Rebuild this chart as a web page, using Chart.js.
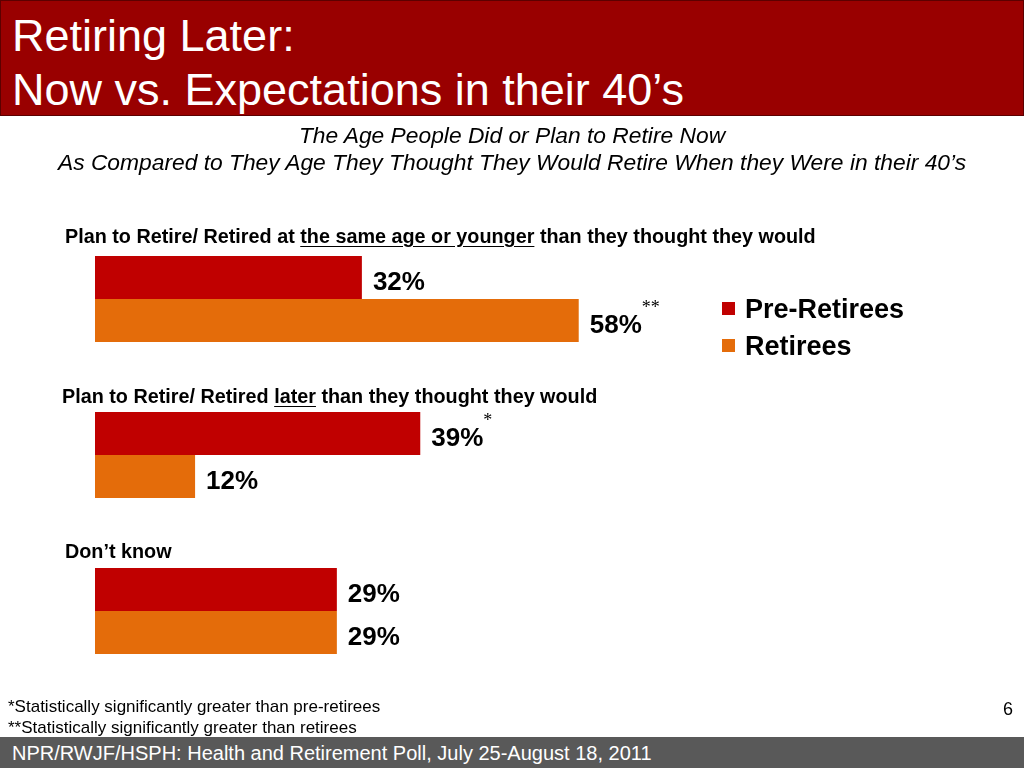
<!DOCTYPE html>
<html>
<head>
<meta charset="utf-8">
<script src="https://cdn.jsdelivr.net/npm/chart.js@4"></script>
<style>
  html, body { margin: 0; padding: 0; }
  body { width: 1024px; height: 768px; position: relative; overflow: hidden; background: #fff; font-family: "Liberation Sans", Arial, sans-serif; }
  #chartBox { position: absolute; left: 0; top: 0; width: 1024px; height: 768px; }
  #header { position: absolute; left: 0; top: 0; width: 1024px; height: 116px; box-sizing: border-box; background: #990000; border: 1px solid #5c0000; }
  #header div { position: absolute; left: 11px; color: #fff; font-size: 45px; white-space: nowrap; }
  .sub { position: absolute; left: 0; width: 1024px; text-align: center; font-style: italic; font-size: 22.8px; color: #000; white-space: nowrap; }
  .heading { position: absolute; font-weight: bold; font-size: 19.8px; color: #000; white-space: nowrap; }
  .heading u { text-underline-offset: 3px; }
  .legend { position: absolute; left: 722px; font-weight: bold; font-size: 27px; color: #000; white-space: nowrap; }
  .legend span { display: inline-block; width: 13px; height: 13px; margin-right: 10px; vertical-align: 3px; }
  .note { position: absolute; left: 8px; font-size: 17px; color: #000; white-space: nowrap; }
  #pageNum { position: absolute; left: 1003px; top: 699px; font-size: 18px; }
  #footer { position: absolute; left: 0; top: 737px; width: 1024px; height: 31px; background: #595959; color: #fff; font-size: 20px; line-height: 33px; padding-left: 12px; box-sizing: border-box; white-space: nowrap; }
</style>
</head>
<body>
<div id="chartBox"><canvas id="barChart"></canvas></div>

<div id="header">
  <div style="top:9px;">Retiring Later:</div>
  <div style="top:63px;">Now vs. Expectations in their 40’s</div>
</div>
<div class="sub" style="top:122px;">The Age People Did or Plan to Retire Now</div>
<div class="sub" style="top:149px;">As Compared to They Age They Thought They Would Retire When they Were in their 40’s</div>

<div id="headings"></div>
<div id="legend"></div>

<div class="note" style="top:697px;">*Statistically significantly greater than pre-retirees</div>
<div class="note" style="top:718px;">**Statistically significantly greater than retirees</div>
<div id="pageNum">6</div>
<div id="footer">NPR/RWJF/HSPH: Health and Retirement Poll, July 25-August 18, 2011</div>

<script>
// chart data
const categories = ["Same age or younger", "Later", "Don't know"];
const headingBefore = ["Plan to Retire/ Retired at ", "Plan to Retire/ Retired ", "Don’t know"];
const headingUnderlined = ["the same age or younger", "later", ""];
const headingAfter = [" than they thought they would", " than they thought they would", ""];
const seriesNames = ["Pre-Retirees", "Retirees"];
const preRetirees = [32, 39, 29];
const retirees = [58, 12, 29];
const preRetireesMarks = ["", "*", ""];
const retireesMarks = ["**", "", ""];
const seriesColors = ["#C00000", "#E46C0A"];

document.addEventListener("DOMContentLoaded", function () {
    // headings and legend as html text
    const headingTops = [225, 385, 540];
    const headingLefts = [65, 62, 65];
    const headingsBox = document.getElementById("headings");
    categories.forEach((cat, i) => {
        const d = document.createElement("div");
        d.className = "heading";
        d.style.top = headingTops[i] + "px";
        d.style.left = headingLefts[i] + "px";
        d.innerHTML = headingBefore[i] + (headingUnderlined[i] ? "<u>" + headingUnderlined[i] + "</u>" : "") + headingAfter[i];
        headingsBox.appendChild(d);
    });

    const legendBox = document.getElementById("legend");
    seriesNames.forEach((name, i) => {
        const d = document.createElement("div");
        d.className = "legend";
        d.style.top = (294 + i * 37) + "px";
        d.innerHTML = `<span style="background:${seriesColors[i]}"></span>${name}`;
        legendBox.appendChild(d);
    });

    const marks = [preRetireesMarks, retireesMarks];

    // value labels next to the bars, with significance stars
    const valueLabels = {
        id: "valueLabels",
        afterDatasetsDraw(chart) {
            const ctx = chart.ctx;
            ctx.save();
            ctx.textBaseline = "middle";
            chart.data.datasets.forEach((ds, di) => {
                chart.getDatasetMeta(di).data.forEach((bar, i) => {
                    const txt = ds.data[i] + "%";
                    ctx.font = "bold 26px 'Liberation Sans', Arial, sans-serif";
                    ctx.fillStyle = "#000";
                    ctx.fillText(txt, bar.x + 11, bar.y + 5);
                    const w = ctx.measureText(txt).width;
                    if (marks[di][i]) {
                        ctx.font = "18px 'Liberation Serif', serif";
                        ctx.fillText(marks[di][i], bar.x + 11 + w, bar.y - 12);
                    }
                });
            });
            ctx.restore();
        }
    };

    const ctx = document.getElementById("barChart").getContext("2d");
    new Chart(ctx, {
        type: "bar",
        data: {
            labels: categories,
            datasets: [
                { label: seriesNames[0], data: preRetirees, backgroundColor: seriesColors[0] },
                { label: seriesNames[1], data: retirees, backgroundColor: seriesColors[1] }
            ]
        },
        options: {
            indexAxis: "y",
            responsive: true,
            maintainAspectRatio: false,
            animation: false,
            categoryPercentage: 0.55,
            barPercentage: 1.0,
            layout: { padding: { left: 95, right: 95, top: 221, bottom: 79 } },
            plugins: {
                legend: { display: false },
                tooltip: { enabled: false }
            },
            scales: {
                x: { display: false, min: 0, max: 100 },
                y: { display: false }
            }
        },
        plugins: [valueLabels]
    });
});
</script>
</body>
</html>
